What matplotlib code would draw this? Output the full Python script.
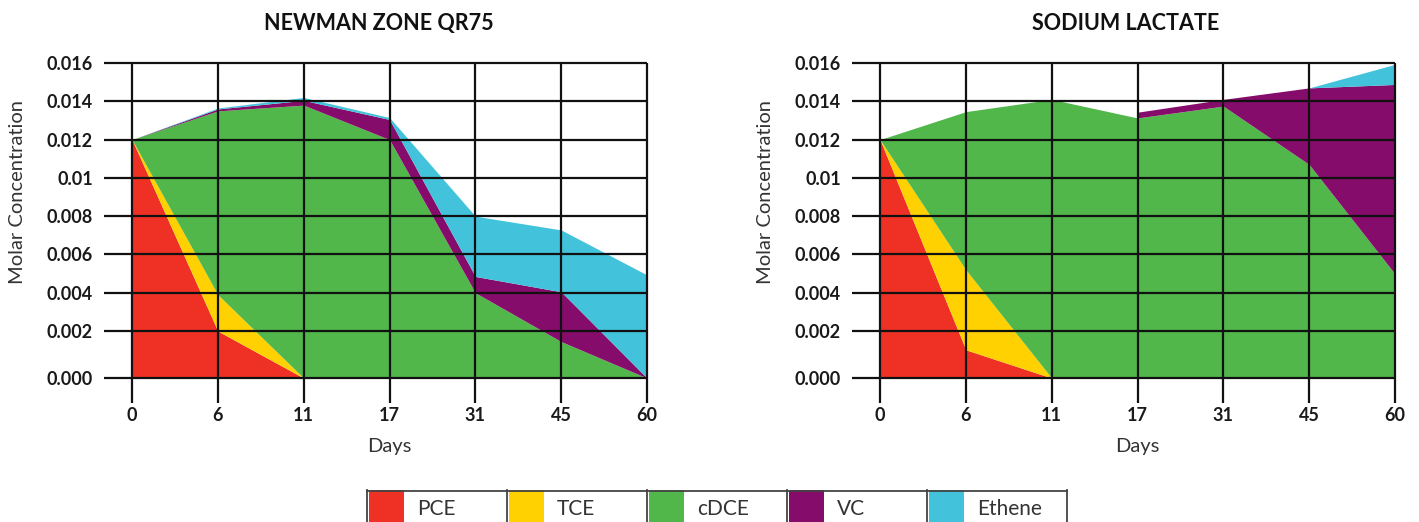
import numpy as np
import matplotlib
matplotlib.use('Agg')
import matplotlib.pyplot as plt
from matplotlib.patches import Rectangle

plt.rcParams['font.family'] = ['Lato', 'DejaVu Sans']

days = ['0', '6', '11', '17', '31', '45', '60']
species = ['PCE', 'TCE', 'cDCE', 'VC', 'Ethene']
colors = ['#EE3124', '#FFD100', '#51B74B', '#850C6A', '#42C3DB']

# molar concentration per species (stacked)
newman_pce = [0.012, 0.002, 0, 0, 0, 0, 0]
newman_tce = [0, 0.0019, 0, 0, 0, 0, 0]
newman_cdce = [0, 0.0096, 0.0138, 0.012, 0.004, 0.00155, 0]
newman_vc = [0, 0.0001, 0.00025, 0.00105, 0.00085, 0.0025, 0]
newman_ethene = [0, 0.00005, 0.00015, 0.0001, 0.00315, 0.00323, 0.00493]

lactate_pce = [0.012, 0.0012, 0, 0, 0, 0, 0]
lactate_tce = [0, 0.004, 0, 0, 0, 0, 0]
lactate_cdce = [0, 0.00826, 0.0141, 0.01313, 0.01375, 0.0107, 0.00498]
lactate_vc = [np.nan, np.nan, np.nan, 0.0003, 0.00035, 0.004, 0.0099]
lactate_ethene = [0, 0, 0, 0, 0, 0, 0.00105]

ytick_vals = [0, 0.002, 0.004, 0.006, 0.008, 0.01, 0.012, 0.014, 0.016]
ytick_labels = ['0.000', '0.002', '0.004', '0.006', '0.008', '0.01', '0.012', '0.014', '0.016']

# the original axis gives the 0-0.002 band a little more room than the rest
k = 1.2276


def fwd(v):
    v = np.asarray(v, dtype=float)
    return np.where(v < 0.002, v * k, v + (k - 1) * 0.002)


def inv(u):
    u = np.asarray(u, dtype=float)
    return np.where(u < 0.002 * k, u / k, u - (k - 1) * 0.002)


def draw(ax, title, series, title_x):
    x = np.arange(len(days))
    vals = [np.array(s, dtype=float) for s in series]
    lower = np.zeros(len(days))
    for v, c in zip(vals, colors):
        upper = lower + np.nan_to_num(v)
        top = np.where(np.isnan(v), np.nan, upper)
        ax.fill_between(x, lower, top, color=c, lw=0, zorder=1)
        lower = upper

    ax.set_yscale('function', functions=(fwd, inv))
    ax.set_xlim(0, 6)
    ax.set_ylim(0, 0.016)
    ax.set_xticks(x)
    ax.set_xticklabels(days)
    ax.set_yticks(ytick_vals)
    ax.set_yticklabels(ytick_labels)
    ax.yaxis.set_minor_locator(matplotlib.ticker.NullLocator())

    ax.vlines(x, 0, 0.016, colors='#111111', lw=1.6, zorder=3, clip_on=False)
    ax.hlines(ytick_vals, 0, 6, colors='#111111', lw=1.6, zorder=3, clip_on=False)
    for s in ax.spines.values():
        s.set_visible(False)
    ax.tick_params(axis='x', length=18, width=1.6, color='#111111', pad=3)
    ax.tick_params(axis='y', length=20, width=1.6, color='#111111', pad=8)
    for lab in ax.get_xticklabels() + ax.get_yticklabels():
        lab.set_fontsize(13)
        lab.set_fontweight('bold')
        lab.set_color('#1a1a1a')

    ax.set_xlabel('Days', fontsize=14.5, color='#333333')
    ax.xaxis.set_label_coords(0.5, -0.19)
    ax.set_ylabel('Molar Concentration', fontsize=14.5, color='#333333')
    ax.yaxis.set_label_coords(-0.205, 0.59)
    ax.text(title_x, 1.124, title, transform=ax.transAxes, ha='center', va='center',
            fontsize=15.5, fontweight='bold', color='#111111')


fig = plt.figure(figsize=(14.19, 5.22), dpi=100)
W, H = 1419, 522
ax1 = fig.add_axes([132 / W, 1 - 378 / H, 515 / W, 315 / H])
ax2 = fig.add_axes([880 / W, 1 - 378 / H, 515 / W, 315 / H])

draw(ax1, 'NEWMAN ZONE QR75',
     [newman_pce, newman_tce, newman_cdce, newman_vc, newman_ethene], 0.48)
draw(ax2, 'SODIUM LACTATE',
     [lactate_pce, lactate_tce, lactate_cdce, lactate_vc, lactate_ethene], 0.476)

# legend row at the bottom, cut by the figure edge like the original
lax = fig.add_axes([367 / W, 0, 700 / W, 32 / H])
lax.set_xlim(0, 700)
lax.set_ylim(0, 32)
lax.axis('off')
cell = 140
for i, (name, c) in enumerate(zip(species, colors)):
    x0 = i * cell
    lax.add_patch(Rectangle((x0 + 2, 0), 35, 32, color=c, lw=0))
    lax.text(x0 + 50, 13, name, fontsize=15, va='center', ha='left', color='#333333')
lax.plot([0, 700], [31.5, 31.5], color='#444444', lw=1.3, clip_on=False)
for i in range(6):
    lax.plot([i * cell, i * cell], [0, 32], color='#444444', lw=1.3, clip_on=False)

fig.savefig('out.png', dpi=100)
